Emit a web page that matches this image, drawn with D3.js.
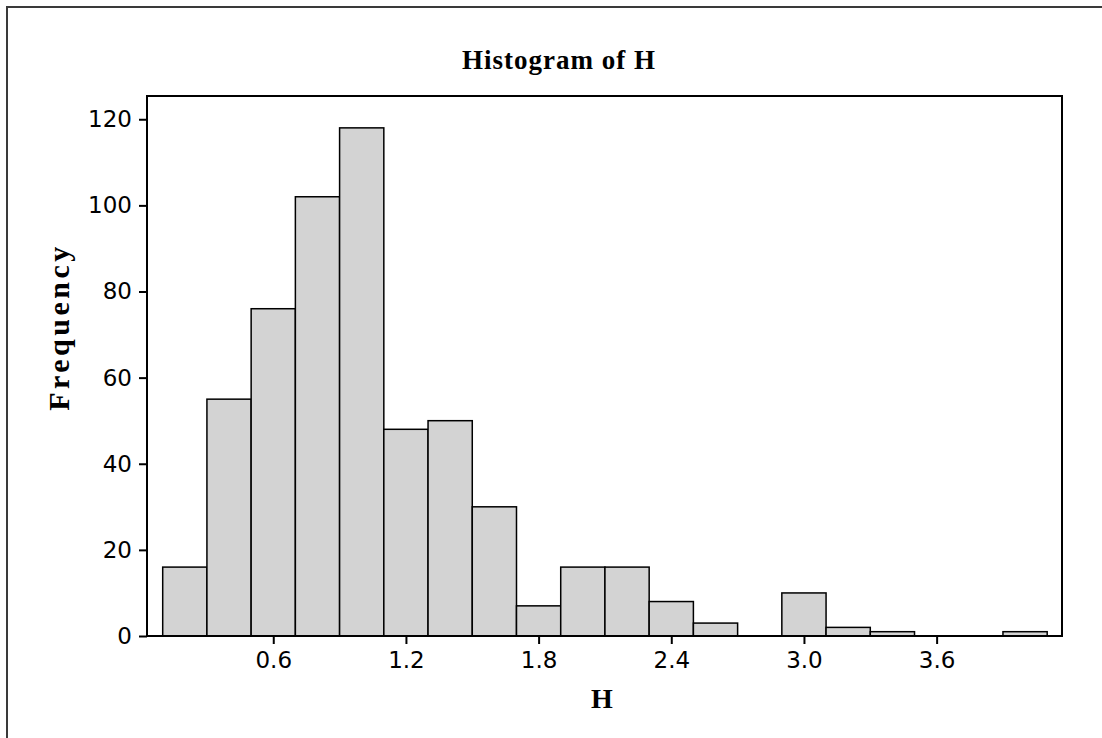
<!DOCTYPE html>
<html>
<head>
<meta charset="utf-8">
<script src="https://cdn.jsdelivr.net/npm/d3@7"></script>
<style>
  body { margin: 0; background: #fff; }
  svg { display: block; }
  .tick text { font-family: "DejaVu Sans", Verdana, sans-serif; font-size: 23px; fill: #000; }
  .label { font-family: "Liberation Serif", "Times New Roman", serif; font-weight: bold; fill: #000; }
</style>
</head>
<body>
<div id="chart"></div>
<script>
// bin midpoints (width 0.2) and counts
const midpoints = [0.2, 0.4, 0.6, 0.8, 1.0, 1.2, 1.4, 1.6, 1.8, 2.0, 2.2, 2.4, 2.6, 2.8, 3.0, 3.2, 3.4, 3.6, 3.8, 4.0];
const counts = [16, 55, 76, 102, 118, 48, 50, 30, 7, 16, 16, 8, 3, 0, 10, 2, 1, 0, 0, 1];
const binWidth = 0.2;
const xTicks = [0.6, 1.2, 1.8, 2.4, 3.0, 3.6];
const yTicks = [0, 20, 40, 60, 80, 100, 120];

const width = 1102, height = 738;
const plot = { left: 147, top: 96, right: 1062, bottom: 636 };

const svg = d3.select("#chart")
  .append("svg")
  .attr("width", width)
  .attr("height", height);

// outer frame (right and bottom edges fall outside the picture)
svg.append("rect")
  .attr("x", 7)
  .attr("y", 7)
  .attr("width", width)
  .attr("height", height)
  .attr("fill", "none")
  .attr("stroke", "#3a3a3a")
  .attr("stroke-width", 2);

const x = d3.scaleLinear()
  .domain([0.029, 4.167])
  .range([plot.left, plot.right]);

const y = d3.scaleLinear()
  .domain([0, 125.4])
  .range([plot.bottom, plot.top]);

const bins = midpoints.map((m, i) => ({ mid: m, count: counts[i] }));

// bars
svg.append("g")
  .selectAll("rect.bar")
  .data(bins)
  .enter()
  .append("rect")
  .attr("class", "bar")
  .attr("x", d => x(d.mid - binWidth / 2))
  .attr("y", d => y(d.count))
  .attr("width", d => x(d.mid + binWidth / 2) - x(d.mid - binWidth / 2))
  .attr("height", d => y(0) - y(d.count))
  .attr("fill", "#d3d3d3")
  .attr("stroke", "#000")
  .attr("stroke-width", 1.5);

// plot frame
svg.append("rect")
  .attr("x", plot.left)
  .attr("y", plot.top)
  .attr("width", plot.right - plot.left)
  .attr("height", plot.bottom - plot.top)
  .attr("fill", "none")
  .attr("stroke", "#000")
  .attr("stroke-width", 2);

// X axis
const xAxis = svg.append("g")
  .attr("transform", `translate(0, ${plot.bottom})`)
  .call(d3.axisBottom(x)
    .tickValues(xTicks)
    .tickFormat(d3.format(".1f"))
    .tickSize(8)
    .tickPadding(8));
xAxis.select(".domain").remove();
xAxis.selectAll(".tick line").attr("stroke", "#000").attr("stroke-width", 2);

// Y axis
const yAxis = svg.append("g")
  .attr("transform", `translate(${plot.left}, 0)`)
  .call(d3.axisLeft(y)
    .tickValues(yTicks)
    .tickSize(8)
    .tickPadding(7));
yAxis.select(".domain").remove();
yAxis.selectAll(".tick line").attr("stroke", "#000").attr("stroke-width", 2);

// title and axis labels
svg.append("text")
  .attr("class", "label")
  .attr("x", 559)
  .attr("y", 69)
  .attr("text-anchor", "middle")
  .style("font-size", "27px")
  .style("letter-spacing", "1px")
  .text("Histogram of H");

svg.append("text")
  .attr("class", "label")
  .attr("x", 602)
  .attr("y", 708)
  .attr("text-anchor", "middle")
  .style("font-size", "28px")
  .text("H");

svg.append("text")
  .attr("class", "label")
  .attr("transform", "translate(69, 327) rotate(-90)")
  .attr("text-anchor", "middle")
  .style("font-size", "30px")
  .style("letter-spacing", "3.5px")
  .text("Frequency");
</script>
</body>
</html>
